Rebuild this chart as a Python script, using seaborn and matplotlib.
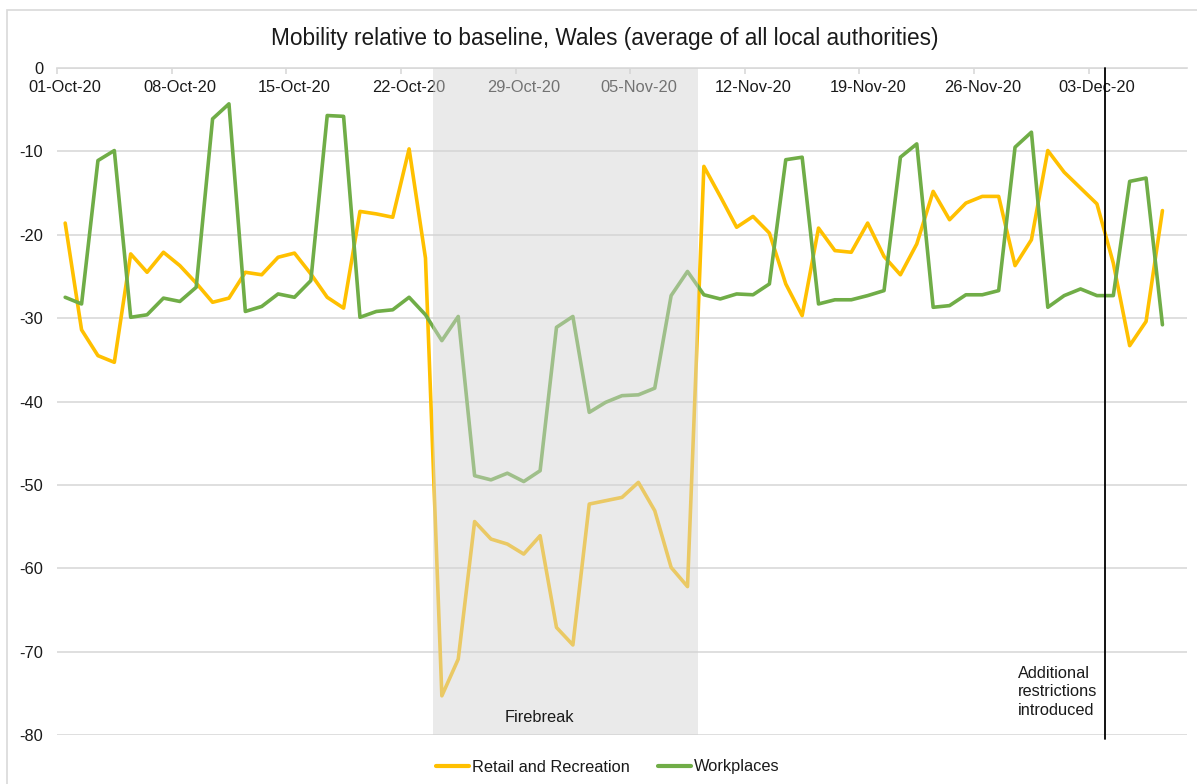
import numpy as np
import pandas as pd
import matplotlib
matplotlib.use("Agg")
import matplotlib.pyplot as plt
from matplotlib.patches import Rectangle
from matplotlib.lines import Line2D
import seaborn as sns

# Daily mobility change vs baseline (%), 01-Oct-2020 to 07-Dec-2020
start_date = "2020-10-01"
retail_recreation = [
    -18.6, -31.4, -34.5, -35.3, -22.3, -24.5, -22.1, -23.7, -25.8, -28.1,
    -27.6, -24.5, -24.8, -22.7, -22.2, -24.7, -27.5, -28.8, -17.2, -17.5,
    -17.9, -9.7, -22.8, -75.3, -70.9, -54.4, -56.5, -57.1, -58.3, -56.1,
    -67.1, -69.2, -52.3, -51.9, -51.5, -49.7, -53.1, -59.9, -62.2, -11.8,
    -15.4, -19.1, -17.8, -19.8, -25.9, -29.7, -19.2, -21.9, -22.1, -18.6,
    -22.6, -24.8, -21.1, -14.8, -18.2, -16.2, -15.4, -15.4, -23.7, -20.6,
    -9.9, -12.5, -14.4, -16.3, -23.4, -33.3, -30.4, -17.1,
]
workplaces = [
    -27.5, -28.3, -11.1, -9.9, -29.9, -29.6, -27.6, -28.0, -26.3, -6.1,
    -4.3, -29.2, -28.6, -27.1, -27.5, -25.5, -5.7, -5.8, -29.9, -29.2,
    -29.0, -27.5, -29.6, -32.7, -29.8, -48.9, -49.4, -48.6, -49.6, -48.3,
    -31.1, -29.8, -41.3, -40.1, -39.3, -39.2, -38.4, -27.3, -24.4, -27.2,
    -27.7, -27.1, -27.2, -25.9, -11.0, -10.7, -28.3, -27.8, -27.8, -27.3,
    -26.7, -10.7, -9.1, -28.7, -28.5, -27.2, -27.2, -26.7, -9.5, -7.7,
    -28.7, -27.3, -26.5, -27.3, -27.3, -13.6, -13.2, -30.8,
]
series_names = ["Retail and Recreation", "Workplaces"]
series_colors = ["#FFC000", "#70AD47"]
y_ticks = [0, -10, -20, -30, -40, -50, -60, -70, -80]

# Firebreak period and the date further restrictions came in (day offsets)
firebreak_span = (22.45, 38.65)
restrictions_day = 63.5

dates = pd.date_range(start_date, periods=len(retail_recreation), freq="D")
n_days = len(dates)
day_index = np.arange(n_days)
df = pd.DataFrame({
    "day": np.concatenate([day_index, day_index]),
    "value": retail_recreation + workplaces,
    "series": [series_names[0]] * n_days + [series_names[1]] * n_days,
})

sns.set_theme(style="white")
plt.rcParams["font.family"] = ["Liberation Sans", "DejaVu Sans"]
text_color = "#1a1a1a"
grid_color = "#D9D9D9"
fs = 11.8

fig = plt.figure(figsize=(11.97, 7.84), dpi=100)
W, H = 1197, 784
ax = fig.add_axes([57 / W, 1 - 735 / H, (1187 - 57) / W, (735 - 68) / H])

sns.lineplot(data=df, x="day", y="value", hue="series",
             palette=dict(zip(series_names, series_colors)),
             linewidth=2.6, ax=ax, legend=False, zorder=2)

ax.set_xlim(-0.5, n_days + 0.5)
ax.set_ylim(-80, 0)
ax.set_xlabel("")
ax.set_ylabel("")

# horizontal gridlines
ax.set_yticks(y_ticks)
ax.set_yticklabels([str(v) for v in y_ticks], fontsize=fs, color=text_color)
ax.tick_params(axis="y", length=0, pad=10)
ax.yaxis.grid(True, color=grid_color, linewidth=1.2)
ax.xaxis.grid(False)
ax.set_axisbelow(True)

# date axis along the zero line, labels just beneath it
label_pos = day_index[::7]
ax.xaxis.tick_top()
ax.set_xticks(label_pos)
ax.set_xticklabels([d.strftime("%d-%b-%y") for d in dates[::7]],
                   fontsize=fs, color=text_color)
ax.set_xticks(label_pos - 0.5, minor=True)
ax.tick_params(axis="x", which="major", length=0, pad=-19.5,
               top=True, labeltop=True, bottom=False, labelbottom=False)
ax.tick_params(axis="x", which="minor", length=4, width=1.2, color=grid_color,
               direction="in", top=True, bottom=False)

for side in ["left", "right", "bottom"]:
    ax.spines[side].set_visible(False)
ax.spines["top"].set_color(grid_color)
ax.spines["top"].set_linewidth(1.2)

# firebreak shading drawn over the lines
ax.axvspan(*firebreak_span, ymin=0, ymax=1, color="#D4D4D4", alpha=0.48,
           linewidth=0, zorder=3)
ax.text(sum(firebreak_span) / 2 - 1.6, -77.9, "Firebreak", fontsize=fs,
        color=text_color, ha="center", va="center", zorder=4)

# additional restrictions marker
ax.plot([restrictions_day, restrictions_day], [0, -80.5], color="#000000",
        linewidth=1.3, clip_on=False, zorder=5)
ax.text(restrictions_day - 5.3, -74.8, "Additional\nrestrictions\nintroduced",
        fontsize=fs, color=text_color, ha="left", va="center",
        linespacing=1.3, zorder=5)

fig.suptitle("Mobility relative to baseline, Wales (average of all local authorities)",
             x=605 / W, y=1 - 38 / H, va="center", fontsize=16.3, color=text_color)

handles = [Line2D([0], [0], color=c, linewidth=3.0) for c in series_colors]
fig.legend(handles, series_names, loc="center", bbox_to_anchor=(608 / W, 1 - 767 / H),
           ncol=2, frameon=False, fontsize=fs, handlelength=2.0,
           handletextpad=0.2, columnspacing=1.7, labelcolor=text_color)

# light chart border
fig.patches.append(Rectangle((7 / W, -0.01), 1.02, 1 - 10 / H + 0.01,
                             transform=fig.transFigure, fill=False,
                             edgecolor=grid_color, linewidth=1.2))

fig.savefig("out.png", dpi=100, facecolor="white")
